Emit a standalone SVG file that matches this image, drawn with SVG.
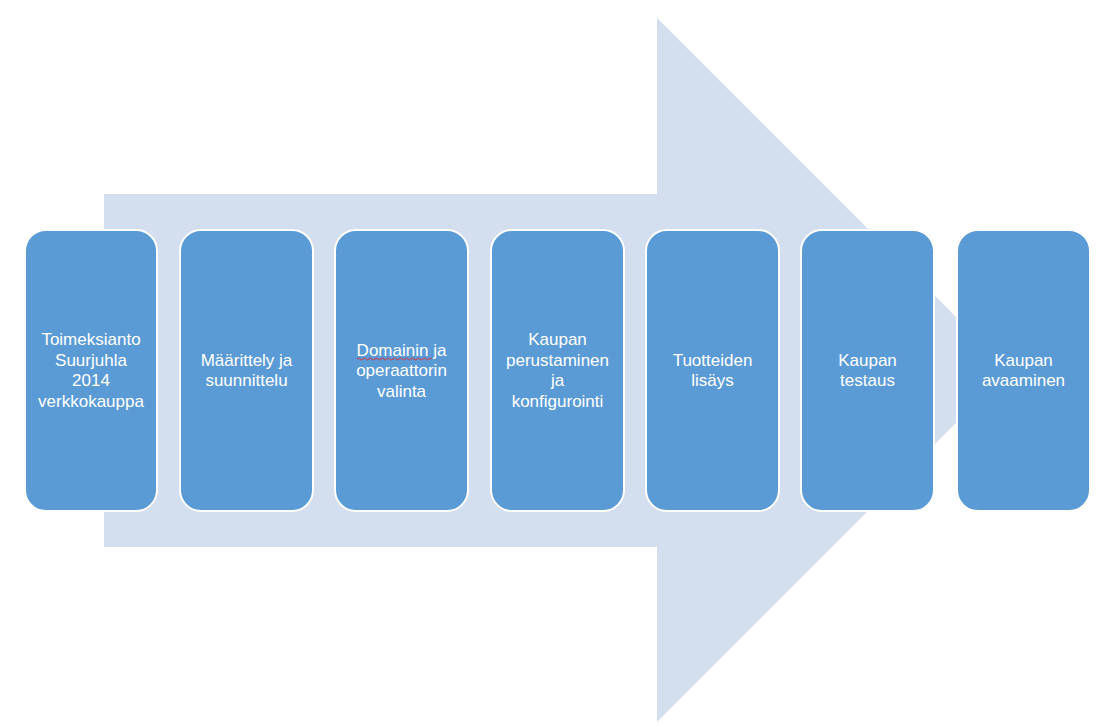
<svg xmlns="http://www.w3.org/2000/svg" width="1108" height="728" viewBox="0 0 1108 728">
<style>
.box{fill:#5B9BD5;stroke:#FFFFFF;stroke-width:2}
.lbl{font-family:"Liberation Sans",Arial,sans-serif;font-size:17px;fill:#FFFFFF;text-anchor:middle}
</style>
<rect width="1108" height="728" fill="#FFFFFF"/>
<g id="arrow">
<polygon points="104,194 657,194 657,18 1009,370 657,722 657,547 104,547" fill="#D3DEEF"/>
</g>
<g id="connectors"></g>
<g id="n1"><rect class="box" x="25" y="230" width="132" height="281" rx="21"/>
<text class="lbl" x="91" y="345">Toimeksianto</text><text class="lbl" x="91" y="365.5">Suurjuhla</text><text class="lbl" x="91" y="386">2014</text><text class="lbl" x="91" y="406.5">verkkokauppa</text></g>
<g id="n2"><rect class="box" x="180" y="230" width="133" height="281" rx="21"/>
<text class="lbl" x="246.5" y="365.5">Määrittely ja</text><text class="lbl" x="246.5" y="386">suunnittelu</text></g>
<g id="n3"><rect class="box" x="335" y="230" width="133" height="281" rx="21"/>
<text class="lbl" x="401.5" y="355.5">Domainin ja</text><text class="lbl" x="401.5" y="376">operaattorin</text><text class="lbl" x="401.5" y="396.5">valinta</text>
<path d="M357,359 q1.5,-2 3,0 t3,0 t3,0 t3,0 t3,0 t3,0 t3,0 t3,0 t3,0 t3,0 t3,0 t3,0 t3,0 t3,0 t3,0 t3,0 t3,0 t3,0 t3,0 t3,0 t3,0 t3,0 t3,0 t3,0 t3,0" fill="none" stroke="#E0303A" stroke-width="1"/></g>
<g id="n4"><rect class="box" x="491" y="230" width="133" height="281" rx="21"/>
<text class="lbl" x="557.5" y="345">Kaupan</text><text class="lbl" x="557.5" y="365.5">perustaminen</text><text class="lbl" x="557.5" y="386">ja</text><text class="lbl" x="557.5" y="406.5">konfigurointi</text></g>
<g id="n5"><rect class="box" x="646" y="230" width="133" height="281" rx="21"/>
<text class="lbl" x="712.5" y="365.5">Tuotteiden</text><text class="lbl" x="712.5" y="386">lisäys</text></g>
<g id="n6"><rect class="box" x="801" y="230" width="133" height="281" rx="21"/>
<text class="lbl" x="867.5" y="365.5">Kaupan</text><text class="lbl" x="867.5" y="386">testaus</text></g>
<g id="n7"><rect class="box" x="957" y="230" width="133" height="281" rx="21"/>
<text class="lbl" x="1023.5" y="365.5">Kaupan</text><text class="lbl" x="1023.5" y="386">avaaminen</text></g>
</svg>
